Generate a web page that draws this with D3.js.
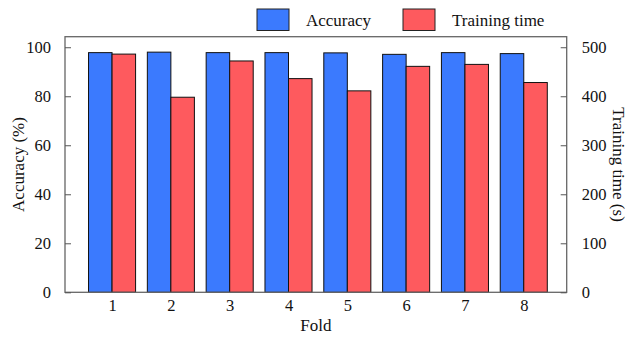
<!DOCTYPE html>
<html>
<head>
<meta charset="utf-8">
<script src="https://cdn.jsdelivr.net/npm/d3@7"></script>
<style>
  body { margin: 0; background: #fff; }
  text { font-family: "Liberation Serif", "Times New Roman", serif; }
</style>
</head>
<body>
<div id="chart"></div>
<script>
// accuracy and training time per fold
const folds = [1, 2, 3, 4, 5, 6, 7, 8];
const accuracy = [97.8, 98.0, 97.8, 97.8, 97.7, 97.1, 97.8, 97.4];
const trainTime = [486, 398, 472, 436, 411, 461, 465, 428];
const accTicks = [0, 20, 40, 60, 80, 100];
const timeTicks = [0, 100, 200, 300, 400, 500];

const width = 629, height = 337;
const margin = {top: 36.7, right: 62.3, bottom: 44.7, left: 65};

const svg = d3.select("#chart").append("svg")
    .attr("width", width)
    .attr("height", height);

const x = d3.scaleLinear()
    .domain([0.2, 8.73])
    .range([margin.left, width - margin.right]);

const yAcc = d3.scaleLinear()
    .domain([0, 104.3])
    .range([height - margin.bottom, margin.top]);

const yTime = d3.scaleLinear()
    .domain([0, 521.5])
    .range([height - margin.bottom, margin.top]);

const barW = 0.4; // in fold units
const blue = "#3b7afe", red = "#fe5a5e";

// bars
const grp = svg.append("g");
grp.selectAll(".acc")
    .data(folds)
    .join("rect")
    .attr("class", "acc")
    .attr("x", (d) => x(d - barW))
    .attr("width", x(barW) - x(0))
    .attr("y", (d, i) => yAcc(accuracy[i]))
    .attr("height", (d, i) => yAcc(0) - yAcc(accuracy[i]))
    .attr("fill", blue)
    .attr("stroke", "#111")
    .attr("stroke-width", 1);

grp.selectAll(".time")
    .data(folds)
    .join("rect")
    .attr("class", "time")
    .attr("x", (d) => x(d))
    .attr("width", x(barW) - x(0))
    .attr("y", (d, i) => yTime(trainTime[i]))
    .attr("height", (d, i) => yTime(0) - yTime(trainTime[i]))
    .attr("fill", red)
    .attr("stroke", "#111")
    .attr("stroke-width", 1);

// frame
svg.append("rect")
    .attr("x", margin.left)
    .attr("y", margin.top)
    .attr("width", width - margin.left - margin.right)
    .attr("height", height - margin.top - margin.bottom)
    .attr("fill", "none")
    .attr("stroke", "#666")
    .attr("stroke-width", 1.3);

// left axis - ticks point inward
const leftAxis = svg.append("g")
    .attr("transform", `translate(${margin.left},0)`)
    .call(d3.axisLeft(yAcc).tickValues(accTicks).tickSizeInner(-6).tickSizeOuter(0).tickPadding(14));

const rightAxis = svg.append("g")
    .attr("transform", `translate(${width - margin.right},0)`)
    .call(d3.axisRight(yTime).tickValues(timeTicks).tickSizeInner(-6).tickSizeOuter(0).tickPadding(15));

const bottomAxis = svg.append("g")
    .attr("transform", `translate(0,${height - margin.bottom})`)
    .call(d3.axisBottom(x).tickValues(folds).tickFormat(d3.format("d")).tickSize(0).tickPadding(7));

for (const ax of [leftAxis, rightAxis, bottomAxis]) {
    ax.select(".domain").remove();
    ax.selectAll("line").attr("stroke", "#555");
    ax.selectAll("text")
        .attr("fill", "#111")
        .style("font-size", "16.5px")
        .style("font-family", "Liberation Serif, serif");
}

// axis titles
svg.append("text")
    .attr("transform", `translate(24,${(margin.top + height - margin.bottom) / 2}) rotate(-90)`)
    .attr("text-anchor", "middle")
    .style("font-size", "17px")
    .attr("fill", "#111")
    .text("Accuracy (%)");

svg.append("text")
    .attr("transform", `translate(613,${(margin.top + height - margin.bottom) / 2}) rotate(90)`)
    .attr("text-anchor", "middle")
    .style("font-size", "17px")
    .attr("fill", "#111")
    .text("Training time (s)");

svg.append("text")
    .attr("x", (margin.left + width - margin.right) / 2)
    .attr("y", 331)
    .attr("text-anchor", "middle")
    .style("font-size", "17px")
    .attr("fill", "#111")
    .text("Fold");

// legend
const legend = [
    {label: "Accuracy", color: blue, x: 257},
    {label: "Training time", color: red, x: 403}
];
const lg = svg.append("g").selectAll("g")
    .data(legend)
    .join("g")
    .attr("transform", (d) => `translate(${d.x},9)`);
lg.append("rect")
    .attr("width", 32)
    .attr("height", 21.5)
    .attr("fill", (d) => d.color)
    .attr("stroke", "#222")
    .attr("stroke-width", 1);
lg.append("text")
    .attr("x", 49)
    .attr("y", 16.5)
    .style("font-size", "17px")
    .attr("fill", "#111")
    .text((d) => d.label);
</script>
</body>
</html>
